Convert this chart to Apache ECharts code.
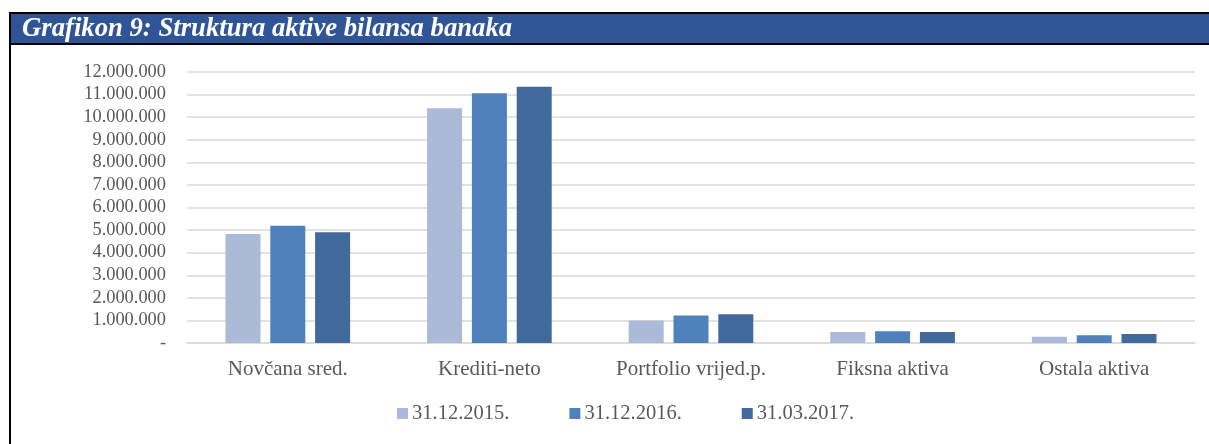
<!DOCTYPE html>
<html>
<head>
<meta charset="utf-8">
<style>
  html, body { margin: 0; padding: 0; background: #fff; }
  #chart { width: 1209px; height: 444px; }
</style>
<script src="https://cdn.jsdelivr.net/npm/echarts@6/dist/echarts.min.js"></script>
</head>
<body>
<div id="chart"></div>
<script>
var categories = ['Novčana sred.', 'Krediti-neto', 'Portfolio vrijed.p.', 'Fiksna aktiva', 'Ostala aktiva'];
var seriesNames = ['31.12.2015.', '31.12.2016.', '31.03.2017.'];
var dec2015 = [4830000, 10390000, 1000000, 490000, 280000];
var dec2016 = [5190000, 11060000, 1220000, 520000, 340000];
var mar2017 = [4900000, 11350000, 1270000, 490000, 400000];
var colors = ['#abbad7', '#4f81bd', '#41699c'];

function fmt(v) {
    if (v === 0) return '-';
    return String(v).replace(/\B(?=(\d{3})+(?!\d))/g, '.');
}

var chart = echarts.init(document.getElementById('chart'));
var serif = '"Liberation Serif", "Times New Roman", serif';
var data = [dec2015, dec2016, mar2017];

var option = {
    animation: false,
    textStyle: { fontFamily: serif },
    title: {
        text: 'Grafikon 9: Struktura aktive bilansa banaka',
        left: 22,
        top: 15,
        padding: 0,
        textStyle: {
            color: '#fff',
            fontFamily: serif,
            fontStyle: 'italic',
            fontWeight: 'bold',
            fontSize: 26.7,
            lineHeight: 28
        }
    },
    graphic: [
        { type: 'rect', z: -1, shape: { x: 9, y: 12, width: 1200, height: 33 }, style: { fill: '#000' } },
        { type: 'rect', z: -1, shape: { x: 11, y: 14, width: 1198, height: 29 }, style: { fill: '#2f5597' } },
        { type: 'rect', z: -1, shape: { x: 9, y: 12, width: 2, height: 432 }, style: { fill: '#000' } }
    ],
    legend: {
        data: seriesNames,
        left: 392,
        top: 398,
        itemWidth: 11,
        itemHeight: 11,
        itemGap: 60,
        icon: 'rect',
        textStyle: { color: '#595959', fontSize: 20.5, fontFamily: serif, padding: [0, 0, 0, -1] }
    },
    grid: { left: 187, right: 14, top: 72, bottom: 101 },
    xAxis: {
        type: 'category',
        data: categories,
        axisLine: { lineStyle: { color: '#d9d9d9', width: 1.5 } },
        axisTick: { show: false },
        axisLabel: { color: '#595959', fontSize: 21, fontFamily: serif, margin: 16 }
    },
    yAxis: {
        type: 'value',
        min: 0,
        max: 12000000,
        interval: 1000000,
        axisLine: { show: false },
        axisTick: { show: false },
        splitLine: { lineStyle: { color: '#d9d9d9', width: 1.5 } },
        axisLabel: { color: '#595959', fontSize: 18.4, fontFamily: serif, margin: 21, formatter: fmt }
    },
    series: seriesNames.map(function (name, i) {
        return {
            name: name,
            type: 'bar',
            data: data[i],
            barWidth: 35,
            barGap: '28%',
            itemStyle: { color: colors[i] }
        };
    })
};
chart.setOption(option);
</script>
</body>
</html>
